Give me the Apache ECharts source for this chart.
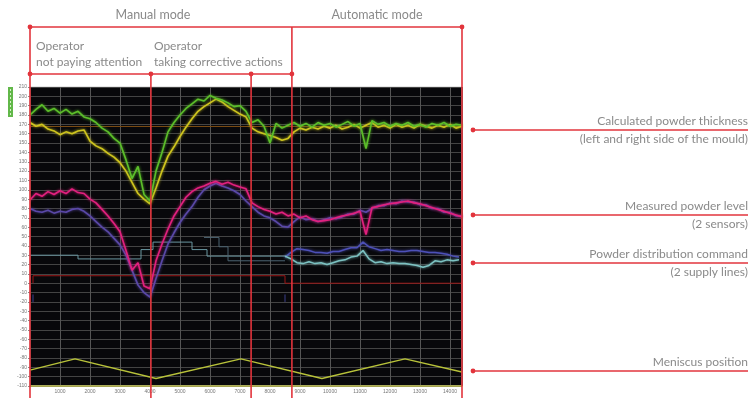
<!DOCTYPE html>
<html>
<head>
<meta charset="utf-8">
<script src="https://cdn.jsdelivr.net/npm/echarts@6/dist/echarts.min.js"></script>
<style>
html, body { margin: 0; padding: 0; background: #fff; }
#chart { width: 752px; height: 400px; }
</style>
</head>
<body>
<div id="chart"></div>
<script>
// sample positions (time axis)
var t = [0,200,400,600,800,1000,1200,1400,1600,1800,2000,2200,2400,2600,2800,3000,3200,3400,3600,3800,
  4000,4200,4400,4600,4800,5000,5200,5400,5600,5800,6000,6200,6400,6600,6800,7000,7200,7400,7600,7800,
  8000,8200,8400,8600,8800,9000,9200,9400,9600,9800,10000,10200,10400,10600,10800,11000,11200,11400,11600,11800,
  12000,12200,12400,12600,12800,13000,13200,13400,13600,13800,14000,14200,14400];

// calculated powder thickness, left (green) / right (yellow)
var thickLeft = [180,186,191,184,187,182,186,181,184,178, 176,172,166,162,155,150,132,112,125,95,
  88,120,140,162,172,180,187,192,197,195, 201,198,196,193,189,190,184,172,175,168,
  150,171,166,169,172,168,171,167,172,169, 171,167,170,173,168,171,144,174,170,172,
  168,171,169,172,168,170,167,171,169,172, 168,170,169];
var thickRight = [172,168,170,165,163,159,162,160,163,164, 152,147,144,139,135,129,120,108,96,90,
  85,102,120,136,146,157,167,176,184,189, 193,197,194,189,185,181,178,166,162,160,
  158,156,153,155,162,166,164,167,165,168, 166,169,165,167,170,166,169,172,167,169,
  166,170,167,169,166,170,168,166,169,167, 170,166,168];
var thickSetpoint = 168;

// measured powder level, 2 sensors
var levelA = [89,96,93,98,95,99,96,101,97,96, 90,86,79,72,64,55,35,14,22,-3,
  -6,24,42,58,72,82,92,98,102,104, 107,109,106,108,105,103,101,86,82,79,
  77,74,76,72,74,70,72,68,66,67, 68,70,72,73,75,77,52,81,82,84,
  85,86,87,88,86,85,83,81,79,77, 75,73,71];
var levelB = [80,77,76,78,75,77,76,79,80,77, 72,66,60,55,48,41,30,14,-2,-10,
  -15,5,24,42,54,65,74,82,92,100, 104,107,104,102,99,95,88,82,76,72,
  70,66,61,60,66,71,68,69,66,68, 70,69,71,74,74,78,76,80,83,83,
  86,85,88,87,87,84,84,80,80,76, 76,72,72];

// powder distribution command, manual (steps) and automatic
var cmdAManX = [0,1600,1600,3700,3700,4100,4100,5400,5400,5900,5900,8500];
var cmdAManY = [30,30,26,26,36,36,44,44,36,36,29,29];
var cmdBManX = [5800,6300,6300,6600,6600,8500];
var cmdBManY = [49,49,39,39,24,24];
var autoX = [8500,8700,8900,9100,9300,9500,9700,9900,10100,10300,10500,10700,10900,11100,11300,
  11500,11700,11900,12100,12300,12500,12700,12900,13100,13300,13500,13700,13900,14100,14300];
var cmdAAuto = [29,26,22,21,23,21,22,20,22,24, 25,28,29,35,26,22,23,21,22,21, 21,20,19,17,19,24,23,25,24,25];
var cmdBAuto = [28,33,37,36,35,33,33,32,34,34, 36,38,38,44,39,37,35,36,35,34, 34,35,35,34,33,33,32,31,29,28];

// red reference level and small blue marks
var refX = [100,100,8500,8500,14400];
var refY = [0,8,8,0,0];
var markX = [100,100,null,8500,8500];
var markY = [-12,-20,null,-12,-20];

// meniscus position
var menX = [0,1500,4200,7030,9730,12500,14400];
var menY = [-93,-81,-102,-81,-102,-81,-95];

// mode boundaries on the time axis
var modeBounds = [0,4030,7370,8730,14400];

var RED = '#e2343c';
var TXT = '#8a8a8a';
var FONT = 'Lato';

function pairs(xs, ys) {
  return xs.map(function (x, i) {
    return [x === null ? '-' : x, ys[i] === null ? '-' : ys[i]];
  });
}

function lineSeries(name, data, color, width, z, glow) {
  var ls = { color: color, width: width };
  if (glow) { ls.shadowColor = color; ls.shadowBlur = 3; }
  return {
    name: name, type: 'line', data: data, symbol: 'none', z: z,
    animation: false, silent: true,
    lineStyle: ls
  };
}

var chart = echarts.init(document.getElementById('chart'));

var thickL = lineSeries('thickLeft', pairs(t, thickLeft), '#5cbf2a', 1.6, 9, true);
thickL.markLine = {
  silent: true, symbol: 'none', label: { show: false },
  lineStyle: { color: '#7a4a12', width: 1, type: 'solid' },
  data: [{ yAxis: thickSetpoint }]
};

chart.setOption({
  backgroundColor: '#fff',
  animation: false,
  grid: {
    left: 30, right: 290, top: 87, bottom: 14,
    show: true, backgroundColor: '#08080b', borderColor: '#cfcfcf', borderWidth: 1
  },
  xAxis: {
    type: 'value', min: 0, max: 14400, interval: 1000,
    axisLine: { show: true, onZero: false, lineStyle: { color: '#c4c454', width: 1.5 } },
    axisTick: { show: false },
    axisLabel: {
      fontSize: 5, color: '#777', margin: 3,
      formatter: function (v) { return (v % 1000 === 0 && v > 0) ? v : ''; }
    },
    splitLine: { show: true, lineStyle: { color: '#555', width: 1 } }
  },
  yAxis: {
    type: 'value', min: -110, max: 210, interval: 10,
    axisLine: { show: false },
    axisTick: { show: true, length: 2, lineStyle: { color: '#888' } },
    axisLabel: { fontSize: 5, color: '#777', margin: 3 },
    splitLine: { show: true, lineStyle: { color: '#444', width: 1 } }
  },
  series: [
    lineSeries('meniscus', pairs(menX, menY), '#b8c23a', 1.4, 3),
    lineSeries('ref', pairs(refX, refY), '#9a1616', 1, 3),
    lineSeries('marks', pairs(markX, markY), '#3b3f8c', 1, 3),
    lineSeries('cmdAMan', pairs(cmdAManX, cmdAManY), '#6b98a2', 1, 4),
    lineSeries('cmdBMan', pairs(cmdBManX, cmdBManY), '#4c6472', 1, 4),
    lineSeries('cmdBAuto', pairs(autoX, cmdBAuto), '#4d50b8', 1.5, 5, true),
    lineSeries('cmdAAuto', pairs(autoX, cmdAAuto), '#7cc2c2', 1.5, 5, true),
    lineSeries('levelB', pairs(t, levelB), '#5a48a8', 1.6, 6, true),
    lineSeries('levelA', pairs(t, levelA), '#e2207e', 1.6, 7, true),
    lineSeries('thickRight', pairs(t, thickRight), '#cfc51e', 1.6, 8, true),
    thickL
  ]
});

// annotation frame, positioned from the x axis
var bx = modeBounds.map(function (v) { return chart.convertToPixel({ xAxisIndex: 0 }, v); });
var yTop = 27, yMid = 74, yBot = 398;

function seg(x1, y1, x2, y2) {
  return { type: 'line', z: 100, silent: true,
    shape: { x1: x1, y1: y1, x2: x2, y2: y2 },
    style: { stroke: RED, lineWidth: 1.6 } };
}
function dot(x, y) {
  return { type: 'circle', z: 101, silent: true,
    shape: { cx: x, cy: y, r: 2.4 }, style: { fill: RED } };
}
function label(text, x, y, size, align) {
  return { type: 'text', z: 102, silent: true, x: x, y: y,
    style: { text: text, fill: TXT, fontSize: size, fontFamily: FONT, fontWeight: 'normal',
      align: align || 'left', verticalAlign: 'middle' } };
}

var g = [];
g.push(seg(bx[0], yTop, bx[4], yTop));
g.push(seg(bx[0], yMid, bx[3], yMid));
g.push(seg(bx[0], yTop, bx[0], yBot));
g.push(seg(bx[4], yTop, bx[4], yBot));
g.push(seg(bx[3], yTop, bx[3], yBot));
g.push(seg(bx[1], yMid, bx[1], yBot));
g.push(seg(bx[2], yMid, bx[2], yBot));
[[bx[0], yTop], [bx[4], yTop], [bx[0], yMid], [bx[1], yMid], [bx[2], yMid], [bx[3], yMid]].forEach(function (p) {
  g.push(dot(p[0], p[1]));
});
g.push(label('Manual mode', (bx[0] + bx[3]) / 2 - 8, 15, 12.5, 'center'));
g.push(label('Automatic mode', (bx[3] + bx[4]) / 2, 15, 12.5, 'center'));
g.push(label('Operator', bx[0] + 6, 46, 12));
g.push(label('not paying attention', bx[0] + 6, 62, 12));
g.push(label('Operator', bx[1] + 3, 46, 12));
g.push(label('taking corrective actions', bx[1] + 3, 62, 12));

// right-hand callouts
var callouts = [
  { y: 130, top: 'Calculated powder thickness', bottom: '(left and right side of the mould)' },
  { y: 215, top: 'Measured powder level', bottom: '(2 sensors)' },
  { y: 263, top: 'Powder distribution command', bottom: '(2 supply lines)' },
  { y: 371, top: 'Meniscus position', bottom: null }
];
callouts.forEach(function (c) {
  g.push(seg(473, c.y, 748, c.y));
  g.push(dot(473, c.y));
  g.push(label(c.top, 748, c.y - 9, 12, 'right'));
  if (c.bottom) g.push(label(c.bottom, 748, c.y + 9, 12, 'right'));
});

// small green legend strip at the top left
g.push({ type: 'rect', z: 50, silent: true, shape: { x: 8, y: 87, width: 5, height: 30 },
  style: { fill: '#62b84a' } });
g.push({ type: 'line', z: 51, silent: true, shape: { x1: 10.5, y1: 89, x2: 10.5, y2: 115 },
  style: { stroke: '#d8f0c8', lineWidth: 1, lineDash: [2, 2] } });

chart.setOption({ graphic: g });
</script>
</body>
</html>
